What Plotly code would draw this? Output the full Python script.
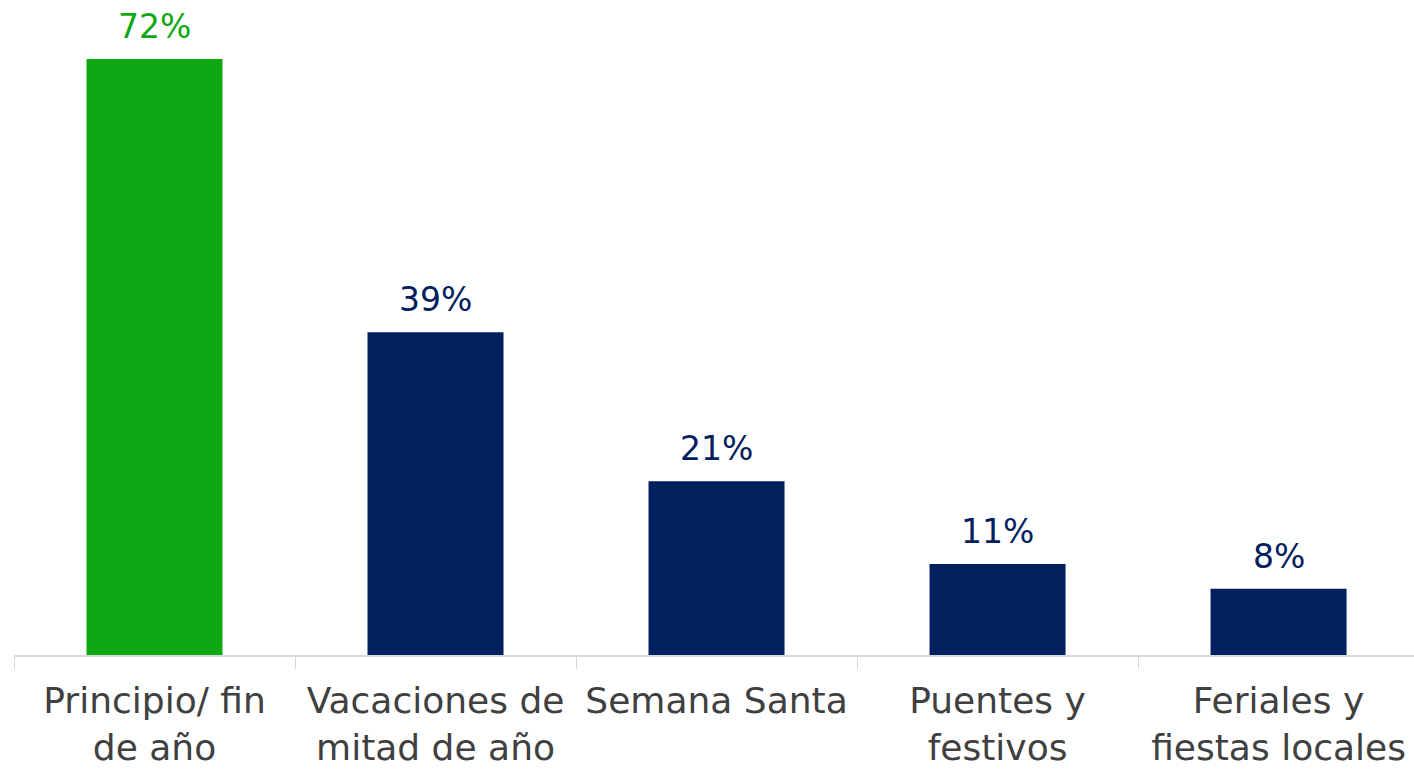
import plotly.graph_objects as go

categories = ["Principio/ fin<br>de año", "Vacaciones de<br>mitad de año", "Semana Santa",
              "Puentes y<br>festivos", "Feriales y<br>fiestas locales"]
values = [72, 39, 21, 11, 8]
labels = ["72%", "39%", "21%", "11%", "8%"]
bar_colors = ["#0ea815", "#02205e", "#02205e", "#02205e", "#02205e"]

FONT = "DejaVu Sans"

fig = go.Figure(go.Bar(
    x=categories, y=values,
    marker=dict(color=bar_colors, line=dict(width=0)),
    cliponaxis=False,
))
for c, v, t, col in zip(categories, values, labels, bar_colors):
    fig.add_annotation(x=c, y=v, text=t, showarrow=False, yanchor="bottom", yshift=11,
                       font=dict(size=33, color=col, family=FONT))
fig.update_layout(
    width=1414, height=769, margin=dict(l=14, r=0, t=59, b=114),
    plot_bgcolor="white", paper_bgcolor="white", bargap=0.516, showlegend=False,
    font=dict(family=FONT, color="#404040"),
)
fig.update_xaxes(showline=True, linecolor="#d9d9d9", linewidth=2, ticks="outside",
                 tickson="boundaries", ticklen=12, tickcolor="#d9d9d9", tickwidth=1,
                 tickfont=dict(size=36, color="#404040", family=FONT), showgrid=False,
                 ticklabelstandoff=13, automargin=False, range=[-0.5, 4.482])
fig.update_yaxes(range=[0, 72], visible=False, showgrid=False, automargin=False)
fig.write_html("out.html", config={"displayModeBar": False},
               post_script="document.body.style.margin='0';document.body.style.overflow='hidden';")
